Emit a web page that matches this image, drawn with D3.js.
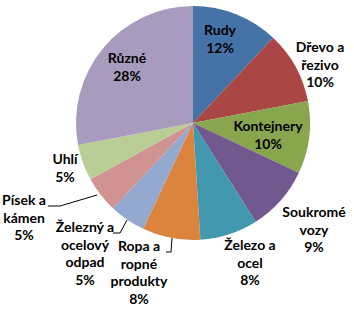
<!DOCTYPE html>
<html><head><meta charset="utf-8">
<script src="https://cdn.jsdelivr.net/npm/d3@7"></script>
<style>body{margin:0;background:#fff}svg{display:block}</style>
</head><body>
<svg id="c" width="354" height="309"></svg>
<script>
// Data
const categories = ["Rudy","Dřevo a řezivo","Kontejnery","Soukromé vozy","Železo a ocel","Ropa a ropné produkty","Železný a ocelový odpad","Písek a kámen","Uhlí","Různé"];
const values = [12,10,10,9,8,8,5,5,5,28];
const labelLines = [["Rudy"],["Dřevo a","řezivo"],["Kontejnery"],["Soukromé","vozy"],["Železo a","ocel"],["Ropa a","ropné","produkty"],["Železný a","ocelový","odpad"],["Písek a","kámen"],["Uhlí"],["Různé"]];

// Styles / layout
const colors = ["#4572A7","#AA4643","#89A54E","#71588F","#4198AF","#DB843D","#93A9CF","#D19392","#B9CD96","#A99BBD"];
const cx = 193, cy = 123, R = 117;
const labelAnchor = [[220,35],[320,52],[268,131],[314,217],[250,250],[139,251],[85,232],[24,205],[65,164],[127,63]];
const leaders = {5:[[166,252],[171,252],[172,238]],6:[[113,233],[120,233],[127,220]],7:[[48,206],[60,206],[97,195]]};
const lh = 17.5;

const svg = d3.select("#c");
const g = svg.append("g").attr("transform",`translate(${cx},${cy})`);
const pie = d3.pie().sort(null).value(d=>d);
const arc = d3.arc().innerRadius(0).outerRadius(R);
const arcs = pie(values);
g.selectAll("path").data(arcs).join("path")
  .attr("d",arc).attr("fill",(d,i)=>colors[i]);

const total = d3.sum(values);
Object.entries(leaders).forEach(([i,pts])=>{
  svg.append("path").attr("d",d3.line()(pts)).attr("fill","none").attr("stroke","#000").attr("stroke-width",1);
});
categories.forEach((c,i)=>{
  const lines = labelLines[i].concat([d3.format(".0%")(values[i]/total)]);
  const t = svg.append("text").attr("text-anchor","middle")
    .attr("font-family","Lato, 'Open Sans', sans-serif").attr("font-weight","bold")
    .attr("font-size","14px").attr("fill","#000");
  lines.forEach((l,k)=>{
    t.append("tspan").attr("x",labelAnchor[i][0]).attr("y",labelAnchor[i][1]+k*lh).text(l);
  });
});
</script>
</body></html>
